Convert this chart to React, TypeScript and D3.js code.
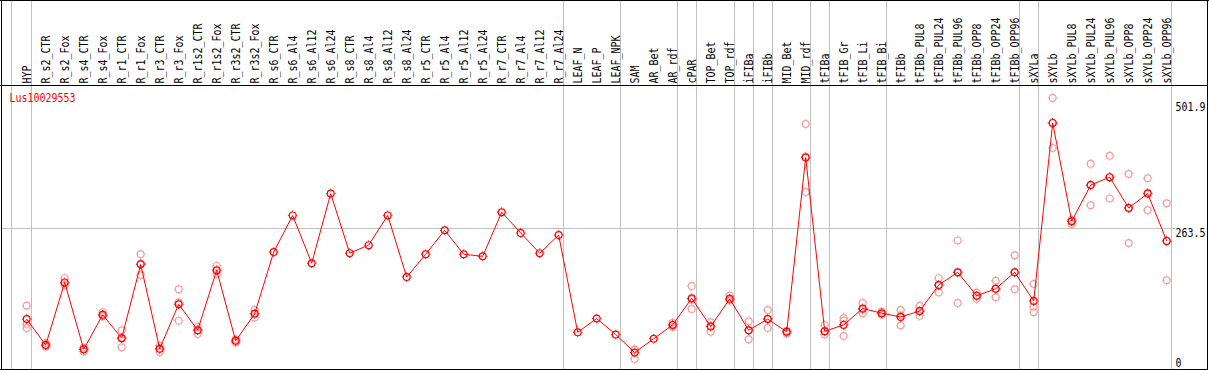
import { useMemo } from "react";
import * as d3 from "d3";

const W = 1209;
const H = 370;

const labels = [
    "HYP", "R_s2_CTR", "R_s2_Fox", "R_s4_CTR", "R_s4_Fox", "R_r1_CTR", "R_r1_Fox", "R_r3_CTR", "R_r3_Fox",
    "R_r1s2_CTR", "R_r1s2_Fox", "R_r3s2_CTR", "R_r3s2_Fox", "R_s6_CTR", "R_s6_Al4", "R_s6_Al12", "R_s6_Al24",
    "R_s8_CTR", "R_s8_Al4", "R_s8_Al12", "R_s8_Al24", "R_r5_CTR", "R_r5_Al4", "R_r5_Al12", "R_r5_Al24",
    "R_r7_CTR", "R_r7_Al4", "R_r7_Al12", "R_r7_Al24", "LEAF_N", "LEAF_P", "LEAF_NPK", "SAM", "AR_Bet", "AR_rdf",
    "cPAR", "TOP_Bet", "TOP_rdf", "iFIBa", "iFIBb", "MID_Bet", "MID_rdf", "tFIBa", "tFIB_Gr", "tFIB_Li", "tFIB_Bi",
    "tFIBb", "tFIBb_PUL8", "tFIBb_PUL24", "tFIBb_PUL96", "tFIBb_OPP8", "tFIBb_OPP24", "tFIBb_OPP96",
    "sXYLa", "sXYLb", "sXYLb_PUL8", "sXYLb_PUL24", "sXYLb_PUL96", "sXYLb_OPP8", "sXYLb_OPP24", "sXYLb_OPP96"
];

// number of samples in each tissue group (separators are drawn between groups)
const groupSizes = [1, 28, 3, 3, 1, 2, 1, 1, 2, 1, 3, 7, 1, 7];

const means = [
    93, 44, 162, 36, 101, 57, 196, 37, 121, 72, 185, 52, 103, 219, 288, 198, 329,
    217, 232, 288, 172, 215, 260, 215, 211, 294, 255, 217, 251, 68, 94, 64, 30, 56, 82,
    132, 79, 131, 72, 93, 69, 397, 70, 82, 113, 104,
    97, 108, 157, 181, 137, 150, 181,
    127, 462, 277, 345, 360, 302, 329, 240
];

const replicates: number[][] = [
    [118, 84, 76], [48, 41, 44], [170, 157, 160], [39, 32, 37], [106, 99, 98], [72, 40, 58],
    [215, 176, 197], [43, 31, 37], [149, 90, 124], [79, 65, 72], [193, 178, 184], [55, 49, 52],
    [110, 96, 103], [], [], [], [], [], [], [], [], [], [], [], [], [], [], [], [], [], [], [],
    [36, 18, 35], [], [86, 78, 82], [155, 112, 130], [87, 69, 80], [137, 129, 128], [89, 55, 72],
    [110, 76, 93], [71, 66, 69], [460, 332, 399], [82, 64, 70], [95, 61, 90], [123, 104, 111],
    [107, 101, 104], [110, 81, 100], [118, 99, 108], [170, 143, 157], [241, 123, 180],
    [143, 131, 137], [165, 134, 150], [213, 149, 181], [159, 116, 106], [509, 415, 462],
    [272, 280, 279], [385, 307, 345], [400, 320, 360], [366, 236, 302], [358, 298, 330], [311, 166, 240]
];

const yTicks = [0, 263.5, 501.9];
const geneId = "Lus10029553";

const FONT = "'DejaVu Sans Mono', monospace";
const GRAY = "#c0c0c0";
const RED = "#ff0000";
const PINK = "#f2a0a0";

const HEADER_Y = 85.5;
const BOTTOM_Y = 369.5;

const Marker = ({ x, y, color }: { x: number; y: number; color: string }) => (
    <g transform={`translate(${x},${y})`}>
        <circle r={3.4} fill="none" stroke={color} strokeWidth={1.2} />
        <path d="M0,-4.8V-3.8M0,3.8V4.8M-4.8,0H-3.8M3.8,0H4.8" stroke={color} strokeWidth={1} />
    </g>
);

export default function App() {
    const x = useMemo(() => d3.scalePoint<string>().domain(labels).range([26.7, 1166.7]), []);
    const y = useMemo(() => d3.scaleLinear().domain([0, 501.9]).range([368.5, 101.7]), []);

    const linePath = useMemo(
        () =>
            d3
                .line<number>()
                .x((_, i) => x(labels[i]) as number)
                .y(d => y(d))(means),
        [x, y]
    );

    // separator positions: before first group and after each group's last sample
    const separators = useMemo(() => {
        const xs = [(x(labels[0]) as number) - 16];
        let end = -1;
        groupSizes.forEach(n => {
            end += n;
            xs.push((x(labels[end]) as number) + 4);
        });
        return xs;
    }, [x]);

    return (
        <svg width={W} height={H} style={{ position: "absolute", left: 0, top: 0, background: "#fff" }}>
            {/* grid line */}
            <line x1={1} x2={1175} y1={Math.round(y(263.5)) + 0.5} y2={Math.round(y(263.5)) + 0.5} stroke={GRAY} />
            {separators.map((sx, i) => (
                <line key={i} x1={Math.round(sx) + 0.5} x2={Math.round(sx) + 0.5} y1={0} y2={BOTTOM_Y} stroke={GRAY} />
            ))}

            {/* frame */}
            <line x1={0} x2={W} y1={0.5} y2={0.5} stroke="#000" />
            <line x1={0} x2={W - 1} y1={HEADER_Y} y2={HEADER_Y} stroke="#000" />
            <line x1={0} x2={W - 1} y1={BOTTOM_Y} y2={BOTTOM_Y} stroke="#000" />
            <line x1={1.5} x2={1.5} y1={0} y2={H} stroke="#000" />
            <line x1={1207.5} x2={1207.5} y1={0} y2={H} stroke="#000" />

            {/* sample labels */}
            {labels.map(l => (
                <text
                    key={l}
                    transform={`translate(${Math.round(x(l) as number) + 3.5},83.5) rotate(-90)`}
                    fontFamily={FONT}
                    fontSize={11.5}
                    textLength={l.length * 6}
                    lengthAdjust="spacingAndGlyphs"
                    fill="#000"
                >
                    {l}
                </text>
            ))}

            {/* y labels */}
            {yTicks.map(t => (
                <text
                    key={t}
                    x={1175.5}
                    y={Math.min(y(t) + 8.8, 367)}
                    fontFamily={FONT}
                    fontSize={11.5}
                    textLength={String(t).length * 6}
                    lengthAdjust="spacingAndGlyphs"
                    fill="#000"
                >
                    {t}
                </text>
            ))}

            <text
                x={9.5}
                y={101.7}
                fontFamily={FONT}
                fontSize={11.5}
                textLength={geneId.length * 6}
                lengthAdjust="spacingAndGlyphs"
                fill={RED}
            >
                {geneId}
            </text>

            {/* replicate values */}
            {replicates.map((reps, i) =>
                reps.map((v, j) => <Marker key={`${i}-${j}`} x={x(labels[i]) as number} y={y(v)} color={PINK} />)
            )}

            <path d={linePath ?? ""} fill="none" stroke={RED} strokeWidth={1} />

            {means.map((v, i) => (
                <Marker key={i} x={x(labels[i]) as number} y={y(v)} color={RED} />
            ))}
        </svg>
    );
}
